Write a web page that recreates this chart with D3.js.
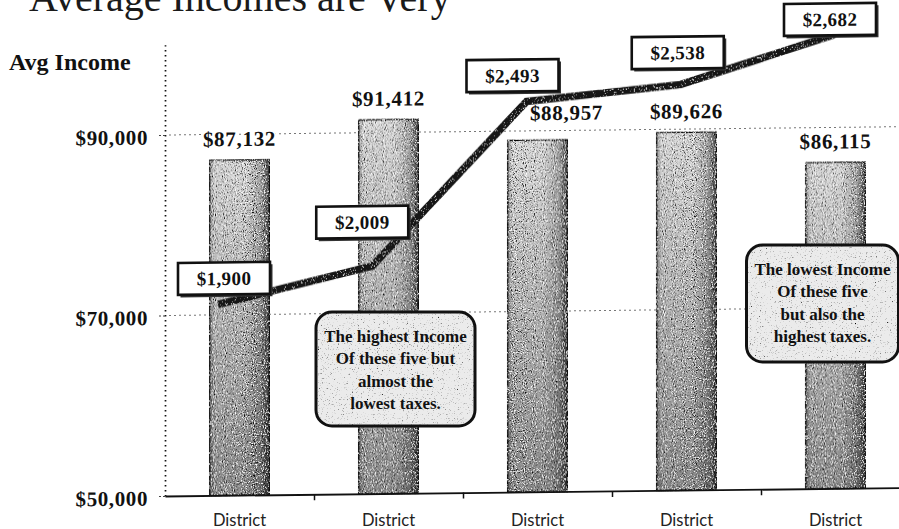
<!DOCTYPE html>
<html>
<head>
<meta charset="utf-8">
<script src="https://cdn.jsdelivr.net/npm/d3@7"></script>
<style>
  html, body { margin: 0; padding: 0; background: #fff; }
  svg { display: block; }
</style>
</head>
<body>
<svg id="chart" width="899" height="529"></svg>
<script>
// ---- data ----
const districts = ["District", "District", "District", "District", "District"];
const avgIncome = [87132, 91412, 88957, 89626, 86115];
const avgTaxes = [1900, 2009, 2493, 2538, 2682];
const incomeTicks = [50000, 70000, 90000];
const titleText = "Average Incomes are Very";
const axisTitle = "Avg Income";
const calloutDistrict = [1, 4];
const calloutLines = [
  ["The highest Income", "Of these five but", "almost the", "lowest taxes."],
  ["The lowest Income", "Of these five", "but also the", "highest taxes."]
];

// ---- layout ----
const SERIF = "'Liberation Serif', 'Times New Roman', serif";
const SANS = "Lato, 'Open Sans', sans-serif";
const axisX = 165, baseY = 496;
const svg = d3.select("#chart");
const idx = d3.range(districts.length);

const x = d3.scaleBand().domain(idx).range([axisX, 910]).paddingInner(0.6).paddingOuter(0.3);
const xEdge = d3.scaleLinear().domain([0, districts.length]).range([axisX, 910]);
const y = d3.scaleLinear().domain([50000, 100000]).range([baseY, 44.75]);
const xTax = d3.scalePoint().domain(idx).range([218, 835]);
const yTax = d3.scaleLinear().domain([1400, 2700]).range([473.3, 35.9]);

// ---- defs: gradients and grain ----
const defs = svg.append("defs");
const gV = defs.append("linearGradient").attr("id", "barV").attr("x1", 0).attr("y1", 0).attr("x2", 0).attr("y2", 1);
gV.append("stop").attr("offset", 0).attr("stop-color", "#d9d9d9");
gV.append("stop").attr("offset", 1).attr("stop-color", "#8a8a8a");
const gH = defs.append("linearGradient").attr("id", "barH");
[[0, 0.3], [0.08, 0.0], [0.6, 0.0], [0.85, 0.22], [1, 0.65]].forEach(([o, a]) =>
  gH.append("stop").attr("offset", o).attr("stop-color", "#000").attr("stop-opacity", a));

function grain(id, freq, darkGain, darkBias, lightGain, lightBias, seed) {
  const f = defs.append("filter").attr("id", id)
    .attr("x", "-2%").attr("y", "-2%").attr("width", "104%").attr("height", "104%");
  f.append("feTurbulence").attr("type", "fractalNoise").attr("baseFrequency", freq)
    .attr("numOctaves", 2).attr("seed", seed).attr("result", "noise");
  f.append("feColorMatrix").attr("in", "noise").attr("type", "matrix")
    .attr("values", `0 0 0 0 0  0 0 0 0 0  0 0 0 0 0  ${darkGain} 0 0 0 ${darkBias}`).attr("result", "dark");
  f.append("feColorMatrix").attr("in", "noise").attr("type", "matrix")
    .attr("values", `0 0 0 0 1  0 0 0 0 1  0 0 0 0 1  ${lightGain} 0 0 0 ${lightBias}`).attr("result", "light");
  const m = f.append("feMerge").attr("result", "spk");
  m.append("feMergeNode").attr("in", "dark");
  m.append("feMergeNode").attr("in", "light");
  f.append("feComposite").attr("in", "spk").attr("in2", "SourceAlpha").attr("operator", "in").attr("result", "clip");
  const m2 = f.append("feMerge");
  m2.append("feMergeNode").attr("in", "SourceGraphic");
  m2.append("feMergeNode").attr("in", "clip");
}
grain("grainBar", 0.9, 5, -2.6, -5, 2.2, 4);
grain("grainLine", 0.9, 0, 0, -4, 1.5, 9);
grain("grainBox", 0.8, 4, -2.5, 0, 0, 2);

// ---- title ----
svg.append("text")
  .attr("x", 29).attr("y", 11)
  .attr("font-family", SERIF).attr("font-size", 40).attr("fill", "#1a1a1a")
  .text(titleText);

svg.append("text")
  .attr("x", 9).attr("y", 70)
  .attr("font-family", SERIF).attr("font-weight", "bold").attr("font-size", 24).attr("fill", "#111")
  .text(axisTitle);

// plot body (slightly sheared baseline)
const plot = svg.append("g")
  .attr("transform", `translate(${axisX},0) skewY(-0.65) translate(${-axisX},0)`);

// gridlines
plot.append("g").selectAll("line")
  .data(incomeTicks.filter(t => t > y.domain()[0]))
  .join("line")
  .attr("x1", axisX + 4).attr("x2", 905)
  .attr("y1", d => y(d)).attr("y2", d => y(d))
  .attr("stroke", "#777").attr("stroke-width", 1)
  .attr("stroke-dasharray", "2,3");

// y axis
const yAxis = plot.append("g")
  .attr("transform", `translate(${axisX},0)`)
  .call(d3.axisLeft(y).tickValues(incomeTicks).tickFormat(d3.format("$,"))
    .tickSize(8).tickSizeOuter(0).tickPadding(9));
yAxis.select(".domain").attr("stroke", "#111").attr("stroke-width", 1.7).attr("stroke-dasharray", "1.6,3.4");
yAxis.selectAll(".tick line").attr("stroke", "#444").attr("stroke-dasharray", "2,2");
yAxis.selectAll(".tick text")
  .attr("font-family", SERIF).attr("font-weight", "bold").attr("font-size", 21)
  .attr("letter-spacing", 0.6).attr("fill", "#111").attr("dy", "0.42em");

// bars
const bars = plot.append("g").selectAll("g")
  .data(avgIncome).join("g")
  .attr("filter", "url(#grainBar)");
bars.append("rect")
  .attr("x", (d, i) => x(i)).attr("y", d => y(d))
  .attr("width", x.bandwidth()).attr("height", d => baseY - y(d))
  .attr("fill", "url(#barV)");
bars.append("rect")
  .attr("x", (d, i) => x(i)).attr("y", d => y(d))
  .attr("width", x.bandwidth()).attr("height", d => baseY - y(d))
  .attr("fill", "url(#barH)")
  .attr("stroke", "#111").attr("stroke-width", 1.3);

// x axis line with boundary ticks
const xAxis = plot.append("g")
  .attr("transform", `translate(0,${baseY})`)
  .call(d3.axisBottom(xEdge).tickValues(d3.range(1, districts.length)).tickFormat("")
    .tickSize(6).tickSizeOuter(0));
xAxis.select(".domain").attr("stroke", "#111").attr("stroke-width", 1.8);
xAxis.selectAll(".tick line").attr("stroke", "#111").attr("stroke-width", 1.5);

// income value labels (the third one sits right of the tax line)
const incomeNudge = [[0, 0], [0, 0], [29, -6], [0, 0], [0, 0]];
plot.append("g").selectAll("text")
  .data(avgIncome).join("text")
  .attr("x", (d, i) => x(i) + x.bandwidth() / 2 + incomeNudge[i][0])
  .attr("y", (d, i) => y(d) - 14 + incomeNudge[i][1])
  .attr("text-anchor", "middle")
  .attr("font-family", SERIF).attr("font-weight", "bold").attr("font-size", 21)
  .attr("letter-spacing", 0.7).attr("fill", "#111")
  .attr("stroke", "#fff").attr("stroke-width", 4).attr("paint-order", "stroke")
  .text(d => d3.format("$,")(d));

// taxes line
plot.append("path")
  .datum(avgTaxes)
  .attr("d", d3.line().x((d, i) => xTax(i)).y(d => yTax(d)))
  .attr("fill", "none").attr("stroke", "#141414").attr("stroke-width", 7.5)
  .attr("stroke-linejoin", "miter").attr("filter", "url(#grainLine)");

// tax value tags, nudged clear of the line
const tagNudge = [[6, -26], [-10, -44], [-14, -26], [-3, -32], [-5, -15]];
const tagW = 92, tagH = 32;
const tags = plot.append("g").selectAll("g")
  .data(avgTaxes).join("g")
  .attr("transform", (d, i) =>
    `translate(${xTax(i) + tagNudge[i][0] - tagW / 2},${yTax(d) + tagNudge[i][1] - tagH / 2})`);
tags.append("rect")
  .attr("x", 2.5).attr("y", 2.5).attr("width", tagW).attr("height", tagH)
  .attr("fill", "#333");
tags.append("rect")
  .attr("width", tagW).attr("height", tagH)
  .attr("fill", "#fff").attr("stroke", "#111").attr("stroke-width", 2.6);
tags.append("text")
  .attr("x", tagW / 2).attr("y", tagH / 2).attr("dy", "0.35em")
  .attr("text-anchor", "middle")
  .attr("font-family", SERIF).attr("font-weight", "bold").attr("font-size", 19)
  .attr("letter-spacing", 0.4).attr("fill", "#111")
  .text(d => d3.format("$,")(d));

// district labels
const xLab = svg.append("g")
  .attr("transform", `translate(0,${baseY})`)
  .call(d3.axisBottom(x).tickFormat(i => districts[i]).tickSize(0).tickPadding(18));
xLab.select(".domain").remove();
xLab.selectAll(".tick text")
  .attr("font-family", SANS).attr("font-size", 16.5).attr("fill", "#222");

// callout notes
const calloutBox = [{ dx: 7, top: 312, w: 159, h: 114 }, { dx: -13, top: 245, w: 152, h: 117 }];
const notes = svg.append("g").selectAll("g")
  .data(calloutDistrict).join("g")
  .attr("transform", (d, k) => {
    const c = x(d) + x.bandwidth() / 2 + calloutBox[k].dx;
    return `translate(${c - calloutBox[k].w / 2},${calloutBox[k].top})`;
  });
notes.append("rect")
  .attr("width", (d, k) => calloutBox[k].w).attr("height", (d, k) => calloutBox[k].h)
  .attr("rx", 16).attr("ry", 16)
  .attr("fill", "#ebebeb").attr("filter", "url(#grainBox)");
notes.append("rect")
  .attr("width", (d, k) => calloutBox[k].w).attr("height", (d, k) => calloutBox[k].h)
  .attr("rx", 16).attr("ry", 16)
  .attr("fill", "none").attr("stroke", "#111").attr("stroke-width", 3);
notes.each(function (d, k) {
  d3.select(this).selectAll("text.note")
    .data(calloutLines[k]).join("text")
    .attr("class", "note")
    .attr("x", calloutBox[k].w / 2)
    .attr("y", (t, j) => 30 + j * 22.3)
    .attr("text-anchor", "middle")
    .attr("font-family", SERIF).attr("font-weight", "bold").attr("font-size", 17)
    .attr("fill", "#111")
    .text(t => t);
});
</script>
</body>
</html>
